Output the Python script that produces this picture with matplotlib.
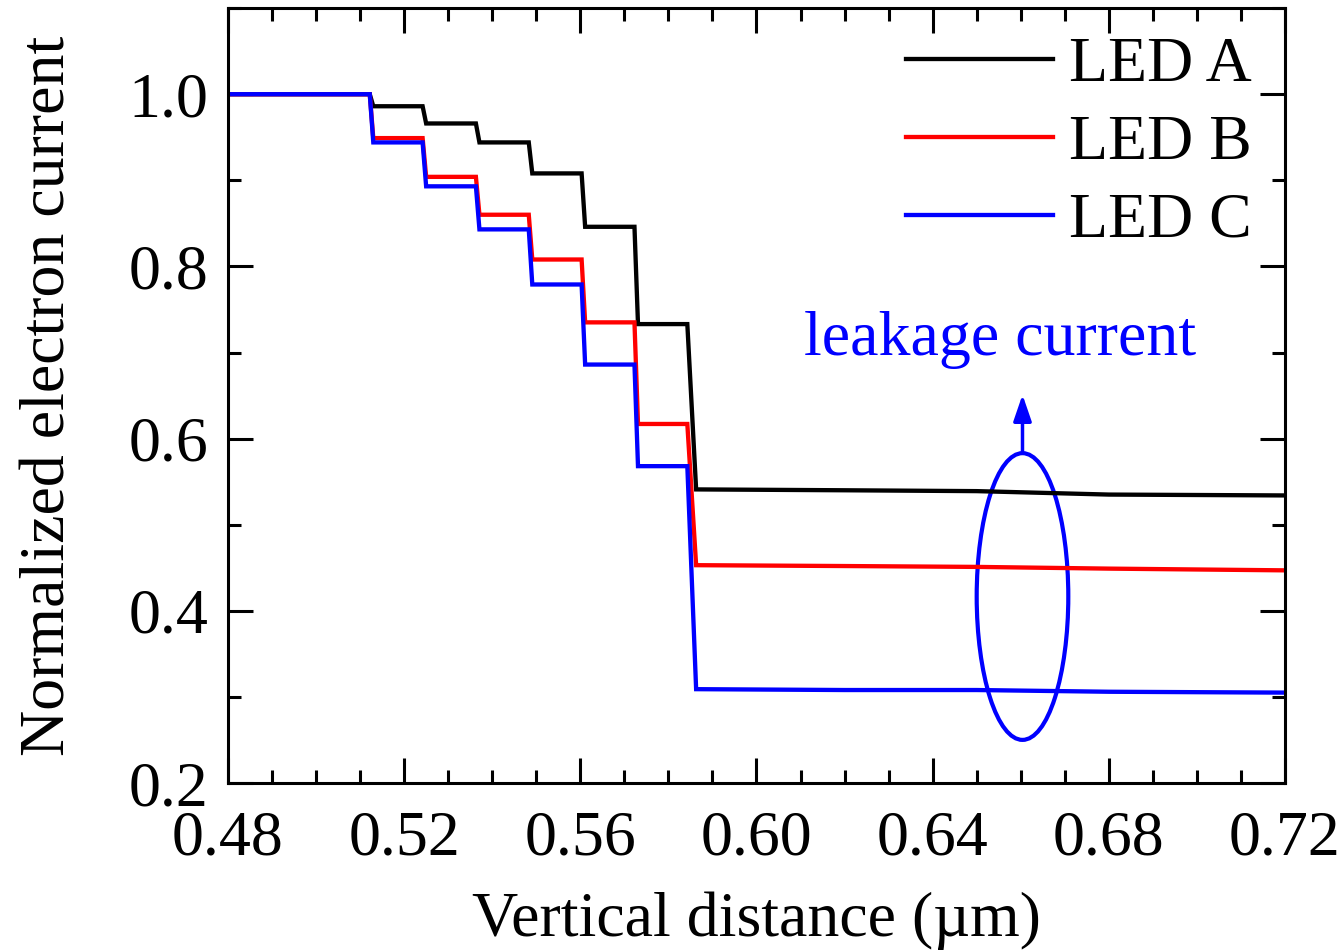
import matplotlib
matplotlib.use("Agg")
import matplotlib.pyplot as plt
from matplotlib.patches import Ellipse
from matplotlib.ticker import MultipleLocator

# step profile (shared x positions)
x_um = [0.480, 0.5122, 0.5130, 0.5242, 0.5250, 0.5363, 0.5371, 0.5483, 0.5491,
        0.5603, 0.5611, 0.5723, 0.5731, 0.5843, 0.5863, 0.620, 0.650, 0.680, 0.720]
led_a = [1.000, 1.000, 0.986, 0.986, 0.966, 0.966, 0.944, 0.944, 0.908,
         0.908, 0.846, 0.846, 0.733, 0.733, 0.541, 0.540, 0.539, 0.535, 0.534]
led_b = [1.000, 1.000, 0.949, 0.949, 0.904, 0.904, 0.860, 0.860, 0.808,
         0.808, 0.735, 0.735, 0.617, 0.617, 0.453, 0.452, 0.451, 0.449, 0.447]
led_c = [1.000, 1.000, 0.944, 0.944, 0.893, 0.893, 0.843, 0.843, 0.779,
         0.779, 0.686, 0.686, 0.568, 0.568, 0.309, 0.308, 0.308, 0.306, 0.305]

series = [("LED A", led_a, "#000000"),
          ("LED B", led_b, "#ff0000"),
          ("LED C", led_c, "#0000ff")]

x_ticks = [0.48, 0.52, 0.56, 0.60, 0.64, 0.68, 0.72]
y_ticks = [0.2, 0.4, 0.6, 0.8, 1.0]

plt.rcParams["font.family"] = ["Liberation Serif", "DejaVu Serif"]

FS = 46

fig = plt.figure(figsize=(13.44, 9.52), dpi=100)
ax = fig.add_axes([0.1696, 0.1775, 0.7865, 0.814])

for name, vals, col in series:
    ax.plot(x_um, vals, color=col, lw=3.1, label=name, solid_joinstyle="miter")

ax.set_xlim(0.48, 0.72)
ax.set_ylim(0.2, 1.1)
ax.set_xticks(x_ticks)
ax.set_xticklabels([f"{v:.2f}" for v in x_ticks])
ax.set_yticks(y_ticks)
ax.set_yticklabels([f"{v:.1f}" for v in y_ticks])
ax.xaxis.set_minor_locator(MultipleLocator(0.01))
ax.yaxis.set_minor_locator(MultipleLocator(0.1))
ax.tick_params(which="both", direction="in", top=True, right=True,
               width=2.2, labelsize=FS)
ax.tick_params(which="major", length=18)
ax.tick_params(which="minor", length=9.5)
ax.tick_params(axis="x", pad=20)
ax.tick_params(axis="y", pad=14)
for sp in ax.spines.values():
    sp.set_linewidth(2.2)

ax.set_xlabel("Vertical distance (µm)", fontsize=FS, labelpad=16)
ax.set_ylabel("Normalized electron current", fontsize=FS, labelpad=36)

# leakage current annotation
ax.add_patch(Ellipse((0.6604, 0.4166), 0.0208, 0.333, fill=False,
                     edgecolor="#0000ff", lw=3.0))
ax.annotate("", xy=(0.6604, 0.651), xytext=(0.6604, 0.583),
            arrowprops=dict(arrowstyle="-|>,head_length=1.6,head_width=0.55",
                            color="#0000ff", lw=2.5, shrinkA=0, shrinkB=0))
ax.text(0.6553, 0.715, "leakage current", color="#0000ff", fontsize=FS,
        ha="center", va="center")

ax.legend(loc="upper right", bbox_to_anchor=(0.981, 0.98), frameon=False,
          fontsize=FS, handlelength=2.3, handletextpad=0.25,
          labelspacing=0.30, borderaxespad=0.1, borderpad=0.1)

fig.savefig("out.png", dpi=100)
